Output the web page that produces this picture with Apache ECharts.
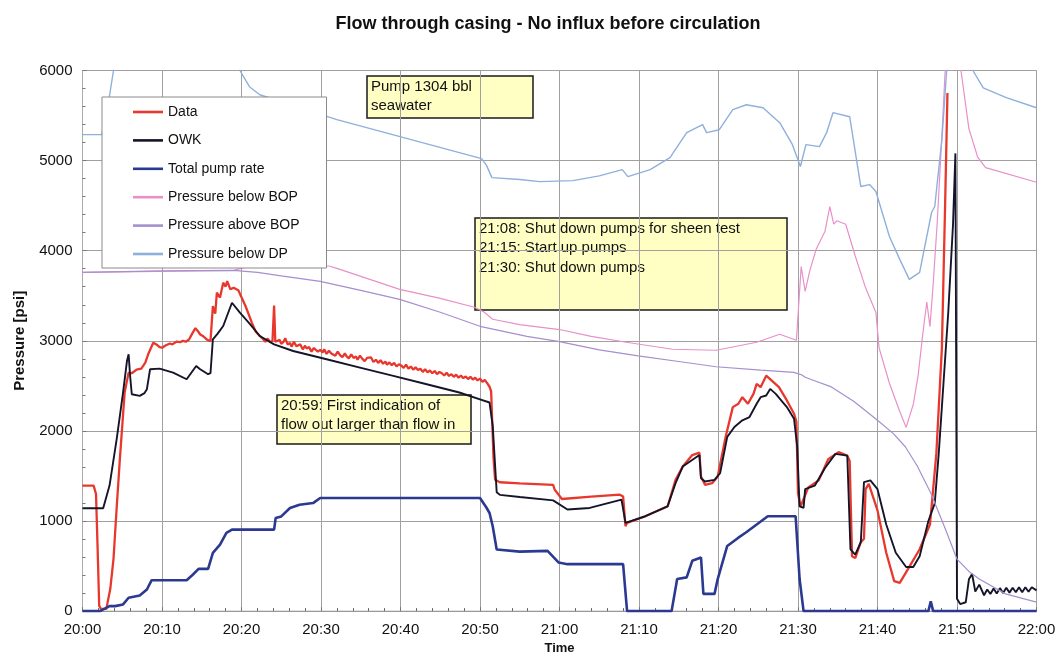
<!DOCTYPE html>
<html>
<head>
<meta charset="utf-8">
<script src="https://cdn.jsdelivr.net/npm/echarts@6/dist/echarts.min.js"></script>
<style>html,body{margin:0;padding:0;background:#fff}#c{width:1060px;height:660px}</style>
</head>
<body>
<div id="c"></div>
<script>
// time in minutes after 20:00, pressure / rate values
const xTickLabels = ['20:00','20:10','20:20','20:30','20:40','20:50','21:00','21:10','21:20','21:30','21:40','21:50','22:00'];
const seriesNames = ['Data','OWK','Total pump rate','Pressure below BOP','Pressure above BOP','Pressure below DP'];

const dataMeasured = [[0,1393],[1.4,1393],[1.7,1300],[1.9,700],[2.1,60],[2.3,25],[3.0,25],[3.5,250],[3.9,580],[4.3,1150],[4.7,1687],[5.3,2425],[5.8,2647],[6.2,2640],[6.8,2680],[7.4,2690],[7.9,2757],[8.3,2860],[8.9,2979],[9.3,2960],[9.7,2930],[10.0,2923],[10.5,2950],[11.0,2970],[11.3,2960],[11.8,2990],[12.3,2985],[12.6,3000],[13.0,2990],[13.4,3015],[13.8,3080],[14.2,3140],[14.5,3110],[14.8,3070],[15.2,3050],[15.7,3010],[16.1,2997],[16.4,3386],[16.7,3300],[16.9,3534],[17.3,3480],[17.7,3645],[18.0,3600],[18.2,3663],[18.6,3571],[19.0,3590],[19.2,3608],[19.6,3560],[19.8,3571],[20.5,3386],[21.3,3202],[21.8,3100],
[22.3,3054],[22.7,3020],[23.0,2990],[23.3,3025],[23.6,2985],[23.9,3000],[24.1,3390],[24.25,2990],[24.5,2970],[24.8,3010],[25.0,2965],[25.3,2990],[25.5,3030],[25.8,2960],[26.1,2975],[26.3,2935],[26.6,2990],[26.9,2940],[27.1,2925],[27.4,2960],[27.7,2905],[28.0,2945],[28.2,2915],[28.5,2930],[28.8,2880],[29.1,2920],[29.3,2935],[29.6,2880],[29.9,2900],[30.2,2870],[30.4,2905],[30.7,2855],[31.0,2890],[31.3,2860],[31.5,2875],[31.8,2835],[32.1,2880],[32.4,2840],[32.7,2820],[33.0,2860],[33.2,2830],[33.5,2805],[33.8,2850],[34.1,2810],[34.4,2825],[34.6,2790],[34.9,2835],[35.2,2800],[35.5,2775],[35.8,2810],[36.0,2790],[36.3,2815],[36.6,2765],[36.9,2790],[37.2,2755],[37.5,2785],[37.8,2745],[38.1,2770],[38.3,2735],[38.6,2760],[38.9,2730],[39.2,2755],[39.5,2715],[39.8,2740],[40.1,2725],[40.4,2700],[40.7,2735],[41.0,2690],[41.3,2715],[41.6,2680],[41.9,2705],[42.2,2675],[42.5,2690],[42.8,2655],[43.1,2685],[43.4,2650],[43.7,2670],[44.0,2640],[44.3,2665],[44.6,2630],[44.9,2655],[45.2,2640],[45.5,2615],[45.8,2645],[46.1,2610],[46.4,2630],[46.7,2600],[47.0,2625],[47.3,2590],[47.6,2615],[47.9,2585],[48.2,2605],[48.5,2575],[48.8,2600],[49.1,2570],[49.4,2590],[49.7,2560],[50.0,2580],[50.3,2545],[50.6,2565],[50.9,2530],[51.2,2490],[51.4,2440],
[51.7,1700],[51.9,1457],[52.5,1430],[55,1418],[59.2,1402],[59.4,1347],[60.3,1244],[64,1270],[67.6,1292],[68.0,1273],[68.3,943],[68.5,980],[70.8,1053],[73.6,1163],[74.6,1457],[75.5,1604],[76.7,1732],[77.6,1758],[77.8,1494],[78.3,1402],[79.2,1420],[79.9,1494],[80.9,1934],[81.8,2264],[82.5,2301],[83,2374],[83.7,2301],[84.4,2411],[84.8,2521],[85.3,2485],[86,2613],[86.7,2558],[87.6,2485],[88.6,2338],[89.5,2191],[89.8,2100],[90.0,1310],[90.3,1157],[91.3,1373],[92.6,1451],[93.8,1686],[95.1,1765],[96.2,1725],[96.5,1667],[96.8,608],[97.2,588],[97.9,765],[98.3,804],[98.5,1353],[98.9,1412],[100,1118],[101.1,647],[102.1,333],[102.8,314],[104,490],[105.3,686],[106.6,961],[107.4,1745],[108.1,2922],[108.5,4490],[108.8,5750]];

const dataOWK = [[0,1142],[2.6,1142],[3.4,1393],[4.3,1909],[5.1,2426],[5.6,2780],[5.8,2850],[6.0,2600],[6.2,2407],[7.2,2389],[7.8,2420],[8.1,2463],[8.5,2684],[9.7,2691],[11.4,2647],[13.1,2573],[14.3,2721],[14.8,2684],[15.8,2629],[16.1,2640],[16.4,3016],[17.0,3080],[17.7,3164],[18.8,3422],[19.8,3312],[21.1,3183],[22.3,3053],[24.1,2961],[26.5,2887],[30.7,2795],[34.9,2702],[39.1,2610],[43.3,2518],[47.4,2426],[50.0,2350],[51.2,2315],[51.6,2057],[52.1,1319],[52.5,1290],[55,1266],[59.2,1229],[61,1127],[63.8,1145],[67.8,1237],[68.3,980],[70.8,1053],[73.6,1163],[74.6,1420],[75.5,1604],[77.6,1732],[77.8,1475],[78.3,1439],[79.5,1457],[80.2,1530],[81.1,1934],[82,2044],[83,2118],[83.9,2154],[84.8,2301],[85.3,2374],[86,2393],[86.5,2466],[87.2,2411],[88.6,2264],[89.5,2136],[89.9,1824],[90.2,1163],[90.7,1145],[90.9,1353],[92.1,1392],[93.4,1588],[94.7,1745],[96.2,1725],[96.6,686],[97.2,627],[97.9,765],[98.3,1431],[99.1,1451],[100,1353],[101.1,961],[102.3,647],[103.6,490],[104.5,490],[105.3,608],[106.4,1000],[107.2,1196],[107.7,1745],[108.3,2529],[108.9,3314],[109.5,4294],[109.8,5080],[110.0,137],[110.4,78],[111.1,98],[111.5,353],[111.9,412],[112.3,216],[112.8,294],[113.4,176],[113.8,240],[114.2,190],[114.6,250],[115.0,195],[115.4,255],[115.8,200],[116.2,260],[116.6,205],[117.0,260],[117.4,210],[117.8,265],[118.2,210],[118.6,265],[119.0,215],[119.4,265],[120,230]];

const dataPumpRate = [[0,0],[2.2,0],[3.4,55],[4.1,55],[5.1,74],[5.8,148],[7.2,173],[8.1,240],[8.7,343],[13.1,343],[13.9,406],[14.6,469],[15.8,469],[16.4,646],[17.3,738],[18.1,867],[18.8,904],[24.1,904],[24.3,1033],[25.0,1051],[26.1,1144],[27.3,1181],[29.0,1199],[29.9,1255],[50.0,1255],[50.8,1150],[51.2,1089],[51.6,941],[52.1,683],[55,660],[58.5,668],[59.9,539],[61,521],[68,521],[68.5,0],[74.1,0],[74.8,356],[76,374],[76.7,558],[77.8,595],[78.1,191],[79.5,191],[79.9,356],[81.1,723],[82.5,815],[83.4,870],[85.1,980],[86.2,1053],[89.7,1053],[90.2,356],[90.7,0],[106.4,0],[106.7,110],[107.0,0],[120,0]];

const dataBelowBOP = [[0,3760],[19,3782],[22,3850],[31,3830],[32,3804],[39.9,3571],[45,3470],[49.3,3372],[50.5,3320],[51.6,3239],[55,3180],[60,3125],[64,3050],[68.4,2984],[74.2,2906],[79.7,2895],[84.8,2984],[87.7,3073],[89.8,3006],[90.4,3824],[90.9,3549],[91.5,3784],[92.3,4020],[93.4,4216],[94,4490],[94.5,4294],[94.9,4333],[96,4294],[97.2,3941],[98.5,3588],[99.8,3314],[100.2,2922],[101.5,2529],[102.8,2216],[103.6,2039],[104.5,2294],[105.1,2608],[105.7,3078],[106.2,3431],[106.6,3157],[107,3627],[107.5,4294],[108.1,5275],[108.5,5980],[108.8,6600],[110.2,6600],[110.5,6000],[111.5,5353],[112.6,5039],[113.6,4922],[120,4760]];

const dataAboveBOP = [[0,3760],[10,3775],[19,3782],[22,3760],[25,3720],[29.9,3660],[35,3560],[39.9,3460],[45,3317],[50,3161],[55.9,3050],[60,2990],[65,2900],[69.9,2833],[75,2770],[79.7,2712],[85.3,2675],[89.5,2650],[90.5,2620],[90.9,2595],[92,2560],[94.1,2492],[97,2330],[100,2118],[102,1970],[103.5,1824],[105,1610],[106.7,1310],[108.5,920],[110,576],[111.5,440],[112.8,356],[116.1,191],[120,99]];

const dataBelowDP = [[0,5288],[2.4,5288],[3.0,5500],[3.9,6000],[4.5,6600],[19.2,6600],[19.8,6000],[21,5820],[22.3,5731],[32,5454],[50.2,5022],[50.8,4950],[51.5,4811],[55,4790],[57.5,4767],[61.7,4778],[65,4830],[67.9,4900],[68.6,4822],[71.4,4900],[73.9,5033],[76,5310],[78,5399],[78.5,5310],[80.1,5343],[81.8,5565],[83.5,5620],[85.6,5587],[87.7,5421],[89.3,5177],[90.3,4934],[91,5177],[92.7,5155],[93.6,5310],[94.4,5532],[96.5,5487],[97.9,4712],[99,4734],[99.8,4657],[101.5,4158],[102.8,3904],[104,3682],[105.3,3760],[106.8,4424],[107.2,4491],[108.1,5233],[108.7,6000],[109.2,6600],[111.5,6600],[112,6000],[113.3,5808],[116.2,5698],[120,5587]];

const annotations = [
  'Pump 1304 bbl\nseawater',
  '21:08: Shut down pumps for sheen test\n21:15: Start up pumps\n21:30: Shut down pumps',
  '20:59: First indication of\nflow out larger than flow in'
];

const FONT = '"Liberation Sans", Arial, sans-serif';
const colors = ['#e8382e','#15152a','#2b3990','#e890c8','#a58fcf','#8fb0dc'];
const widths = [2.3,1.9,2.6,1.2,1.2,1.4];
const seriesData = [dataMeasured, dataOWK, dataPumpRate, dataBelowBOP, dataAboveBOP, dataBelowDP];

function box(x, y, w, h, text) {
  return {
    type: 'group', z: 100,
    children: [
      {type:'rect', shape:{x:x, y:y, width:w, height:h}, style:{fill:'#ffffc4', stroke:'#1a1a1a', lineWidth:1.5}},
      {type:'text', x:x+4, y:y+1, style:{text:text, font:'15px ' + FONT, fill:'#111', lineHeight:19.5, verticalAlign:'top'}}
    ]
  };
}

const chart = echarts.init(document.getElementById('c'), null, {renderer:'canvas'});
chart.setOption({
  animation: false,
  backgroundColor: '#fff',
  title: {
    text: 'Flow through casing - No influx before circulation',
    left: 543, top: 10, textAlign: 'center',
    textStyle: {fontFamily: FONT, fontSize: 18, fontWeight: 'bold', color: '#111'}
  },
  grid: {left: 82.5, right: 23.5, top: 70.5, bottom: 47.5, show: true, borderColor: '#b8b8b8', borderWidth: 1},
  legend: {
    data: seriesNames,
    orient: 'vertical', left: 102, top: 97,
    backgroundColor: '#fff', borderColor: '#8a8a8a', borderWidth: 1,
    padding: [8, 27, 7, 31],
    itemWidth: 30, itemHeight: 14, itemGap: 14.4,
    icon: 'path://M0,0L30,0L30,2.6L0,2.6Z',
    symbolKeepAspect: true,
    textStyle: {fontFamily: FONT, fontSize: 14, color: '#111'}
  },
  xAxis: {
    type: 'value', min: 0, max: 120, interval: 10,
    name: 'Time', nameLocation: 'middle', nameGap: 29,
    nameTextStyle: {fontFamily: FONT, fontSize: 13, fontWeight: 'bold', color: '#111'},
    axisLine: {lineStyle: {color: '#999'}},
    axisTick: {show: true, inside: true, length: 4, lineStyle: {color: '#777'}},
    minorTick: {show: true, splitNumber: 5, length: 3, lineStyle: {color: '#666'}},
    axisLabel: {fontFamily: FONT, fontSize: 15, color: '#111', margin: 11,
      formatter: v => xTickLabels[Math.round(v / 10)]},
    splitLine: {show: true, lineStyle: {color: '#a0a0a0', width: 1}}
  },
  yAxis: {
    type: 'value', min: 0, max: 6000, interval: 1000,
    name: 'Pressure [psi]', nameLocation: 'middle', nameGap: 55,
    nameTextStyle: {fontFamily: FONT, fontSize: 15, fontWeight: 'bold', color: '#111'},
    axisLine: {show: true, lineStyle: {color: '#aaa'}},
    axisTick: {show: true, inside: true, length: 4, lineStyle: {color: '#777'}},
    minorTick: {show: true, splitNumber: 5, length: 3, lineStyle: {color: '#777'}},
    axisLabel: {fontFamily: FONT, fontSize: 15, color: '#111', margin: 10, formatter: v => String(v)},
    splitLine: {show: true, lineStyle: {color: '#a0a0a0', width: 1}}
  },
  series: seriesNames.map((n, i) => ({
    name: n, type: 'line', data: seriesData[i],
    symbol: 'none', clip: true,
    lineStyle: {color: colors[i], width: widths[i]},
    itemStyle: {color: colors[i]},
    z: 2 + i * 0.01
  })),
  graphic: [
    box(367, 76, 166, 42, annotations[0]),
    box(475, 218, 312, 92, annotations[1]),
    box(277, 395, 194, 49, annotations[2])
  ]
});
</script>
</body>
</html>
